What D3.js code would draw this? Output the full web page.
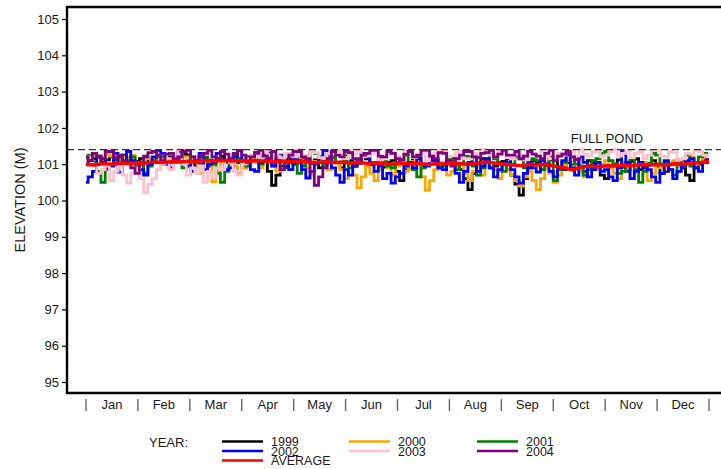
<!DOCTYPE html>
<html>
<head>
<meta charset="utf-8">
<script src="https://cdn.jsdelivr.net/npm/d3@7/dist/d3.min.js"></script>
<style>
  html, body { margin: 0; padding: 0; background: #fff; }
  svg { display: block; font-family: "Liberation Sans", Arial, Helvetica, sans-serif; }
</style>
</head>
<body>
<svg id="chart" width="721" height="469"></svg>
<script>
// ---------- data ----------
const months = ["Jan","Feb","Mar","Apr","May","Jun","Jul","Aug","Sep","Oct","Nov","Dec"];
const yTicks = [95, 96, 97, 98, 99, 100, 101, 102, 103, 104, 105];
const fullPond = 101.4;
const yearStepDays = 2.5;   // yearly series: one value every 2.5 days
const avgStepDays = 5;      // average: one value every 5 days

const y1999 = [
  101.10, 100.98, 101.15, 101.22, 101.05, 101.12, 101.20, 101.00, 101.10, 101.25,
  101.18, 101.05, 101.08, 101.15, 101.22, 101.02, 101.12, 101.20, 101.05, 101.15,
  101.20, 101.08, 101.15, 101.28, 101.25, 101.02, 101.10, 101.20, 101.18, 100.95,
  101.08, 101.15, 101.22, 101.05, 101.12, 101.25, 101.05, 100.90, 101.20, 101.10,
  101.32, 101.15, 101.10, 100.80, 100.42, 100.70, 100.95, 101.12, 101.15, 101.00,
  101.05, 101.18, 101.20, 101.02, 101.12, 100.90, 100.98, 101.15, 101.18, 101.05,
  100.90, 101.12, 101.10, 100.95, 101.02, 101.20, 101.15, 100.98, 101.05, 101.15,
  100.92, 101.05, 101.10, 100.80, 100.55, 100.85, 101.05, 101.18, 101.15, 100.95,
  100.98, 101.10, 101.12, 100.90, 101.02, 101.15, 101.18, 100.95, 100.85, 100.60,
  100.30, 100.75, 101.00, 101.15, 101.12, 100.90, 100.95, 101.05, 101.08, 100.85,
  100.70, 100.45, 100.15, 100.60, 100.90, 101.10, 101.05, 100.85, 100.95, 101.12,
  101.10, 100.90, 100.85, 101.05, 101.00, 101.15, 100.92, 100.80, 101.10, 101.02,
  100.88, 100.70, 100.60, 100.95, 101.00, 101.12, 100.92, 100.80, 101.08, 101.15,
  100.85, 100.95, 101.02, 101.10, 100.95, 100.75, 100.80, 100.98, 101.05, 101.12,
  100.90, 100.70, 100.55, 100.90, 101.00, 101.10, 101.05];
const y2000 = [
  101.20, 101.10, 101.25, 101.18, 101.15, 101.28, 101.22, 101.05, 101.10, 101.20,
  101.18, 101.25, 101.05, 100.95, 101.20, 101.15, 101.12, 101.22, 101.00, 101.10,
  101.15, 101.05, 101.08, 101.20, 101.20, 101.00, 100.95, 100.75, 101.10, 101.00,
  100.52, 100.80, 101.05, 101.12, 101.15, 100.95, 100.75, 100.90, 101.10, 101.18,
  101.05, 100.90, 101.18, 101.10, 100.95, 100.80, 101.12, 101.05, 101.02, 101.15,
  101.15, 101.00, 100.90, 100.70, 101.08, 101.15, 101.00, 100.85, 101.12, 101.02,
  100.85, 100.60, 101.00, 100.70, 100.35, 100.65, 100.95, 100.75, 100.55, 100.85,
  101.05, 100.90, 100.70, 100.95, 101.00, 100.80, 100.90, 101.08, 101.05, 100.65,
  100.28, 100.55, 100.85, 101.05, 101.00, 100.70, 100.80, 100.95, 101.02, 100.75,
  100.55, 100.80, 100.95, 100.70, 101.05, 100.90, 100.85, 100.60, 101.00, 100.85,
  100.70, 100.55, 100.40, 100.65, 100.80, 100.55, 100.30, 100.60, 100.90, 100.75,
  100.50, 100.70, 100.95, 101.10, 101.05, 100.90, 100.80, 100.65, 101.00, 100.85,
  100.88, 101.00, 101.10, 100.90, 100.75, 100.60, 101.05, 100.95, 100.60, 100.80,
  100.95, 101.05, 100.55, 100.75, 101.00, 100.90, 100.85, 101.00, 101.10, 100.95,
  100.95, 101.10, 101.20, 101.00, 101.05, 101.18, 101.15];
const y2001 = [
  101.15, 101.25, 101.05, 100.80, 100.50, 100.85, 101.00, 101.12, 101.20, 101.05,
  101.10, 101.20, 100.95, 101.05, 100.75, 100.95, 101.10, 101.25, 101.20, 101.00,
  101.05, 101.18, 101.15, 100.90, 100.95, 101.20, 101.10, 101.00, 101.20, 101.12,
  101.00, 100.75, 100.50, 100.80, 101.05, 101.20, 101.15, 101.00, 100.95, 101.10,
  101.10, 101.00, 101.25, 101.15, 101.00, 101.20, 101.15, 100.90, 101.05, 101.20,
  100.75, 100.95, 101.10, 101.35, 101.30, 101.10, 101.00, 101.22, 101.20, 101.05,
  101.05, 101.25, 100.90, 101.05, 101.15, 101.30, 101.25, 101.05, 101.00, 101.20,
  101.10, 100.95, 100.90, 101.05, 101.15, 101.25, 101.05, 100.85, 100.65, 100.90,
  101.00, 101.20, 101.15, 100.90, 100.95, 101.15, 101.10, 100.85, 101.00, 101.22,
  101.20, 100.95, 100.70, 100.90, 101.05, 101.25, 101.15, 101.00, 100.80, 101.05,
  101.00, 101.20, 101.15, 100.90, 100.95, 101.15, 101.10, 100.85, 101.00, 101.20,
  100.55, 100.85, 101.05, 101.30, 101.20, 101.00, 100.95, 100.70, 100.85, 101.10,
  101.15, 101.30, 101.35, 101.10, 101.00, 100.75, 100.80, 101.05, 101.15, 100.85,
  100.50, 100.80, 101.00, 101.30, 101.25, 101.00, 101.05, 100.85, 100.70, 101.00,
  101.10, 101.25, 100.95, 101.05, 101.20, 101.30, 101.10];
const y2002 = [
  100.50, 100.65, 100.80, 101.20, 101.15, 100.90, 100.95, 101.30, 100.78, 101.05,
  101.35, 101.10, 101.05, 100.85, 100.70, 101.00, 101.20, 101.38, 101.30, 101.00,
  100.90, 101.15, 101.35, 101.05, 100.95, 100.80, 101.10, 101.30, 100.85, 101.00,
  101.05, 101.30, 101.15, 100.85, 100.90, 101.20, 101.38, 101.10, 101.05, 100.85,
  100.80, 101.05, 101.15, 101.35, 100.95, 101.10, 101.25, 100.95, 100.85, 101.15,
  101.10, 100.85, 100.62, 100.80, 101.00, 101.20, 101.38, 101.15, 100.90, 100.70,
  100.50, 100.85, 100.70, 100.95, 101.05, 101.30, 101.25, 101.00, 100.80, 100.95,
  100.60, 100.75, 100.48, 100.65, 100.75, 100.95, 101.05, 100.90, 101.20, 101.00,
  100.95, 101.15, 101.10, 100.90, 100.85, 101.05, 101.00, 100.75, 100.50, 100.80,
  101.05, 101.20, 100.80, 100.95, 101.15, 100.90, 100.65, 100.85, 101.00, 101.15,
  100.85, 100.65, 100.48, 100.75, 101.05, 100.90, 100.78, 101.10, 101.00, 100.80,
  100.65, 100.90, 101.10, 101.25, 100.90, 100.70, 101.20, 101.05, 100.65, 100.85,
  101.05, 100.80, 100.85, 100.65, 100.55, 100.90, 101.38, 101.05, 100.60, 100.80,
  101.05, 100.90, 100.85, 100.65, 100.50, 100.75, 101.10, 100.85, 100.60, 100.80,
  100.95, 101.10, 101.15, 100.90, 100.80, 101.05, 101.15];
const y2003 = [
  101.10, 101.20, 101.00, 100.75, 100.85, 100.95, 100.55, 100.80, 100.95, 100.70,
  100.48, 100.75, 100.90, 100.60, 100.22, 100.45, 100.60, 100.85, 101.00, 101.15,
  100.85, 101.20, 101.40, 101.00, 100.70, 100.90, 100.75, 100.95, 100.50, 100.80,
  100.62, 100.90, 100.85, 101.10, 101.05, 100.80, 100.70, 101.00, 101.15, 101.25,
  101.30, 101.15, 101.20, 101.38, 101.35, 101.22, 101.15, 101.30, 101.30, 101.20,
  101.40, 101.25, 101.20, 101.35, 101.32, 101.18, 101.15, 101.30, 101.30, 101.38,
  101.25, 101.15, 101.38, 101.28, 101.40, 101.20, 101.22, 101.35, 101.30, 101.12,
  101.15, 101.30, 101.32, 101.22, 101.20, 101.38, 101.35, 101.18, 101.25, 101.30,
  101.10, 101.25, 101.30, 101.38, 101.38, 101.20, 101.22, 101.32, 101.35, 101.15,
  101.15, 101.30, 101.28, 101.40, 101.38, 101.25, 101.20, 101.35, 101.30, 101.18,
  101.15, 101.32, 101.25, 101.12, 101.35, 101.28, 101.20, 101.38, 101.30, 101.15,
  101.15, 101.30, 101.25, 101.38, 101.35, 101.20, 101.40, 101.28, 101.22, 101.35,
  101.38, 101.20, 101.25, 101.35, 101.40, 101.22, 101.30, 101.38, 101.18, 101.30,
  101.35, 101.15, 101.25, 101.38, 101.38, 101.22, 101.20, 101.35, 101.32, 101.12,
  101.15, 101.30, 101.28, 101.38, 101.35, 101.25, 101.20];
const y2004 = [
  101.20, 101.10, 101.30, 101.22, 101.15, 101.35, 101.35, 101.18, 101.25, 101.10,
  101.05, 100.90, 100.75, 101.00, 101.20, 101.32, 101.35, 101.25, 101.10, 101.28,
  101.30, 101.15, 101.20, 101.35, 101.38, 101.20, 101.05, 101.22, 101.30, 101.38,
  101.20, 101.10, 101.35, 101.28, 101.15, 101.30, 101.38, 101.25, 101.05, 101.20,
  101.30, 101.38, 101.22, 101.15, 101.35, 101.10, 100.85, 101.05, 101.25, 101.35,
  101.35, 101.20, 101.15, 100.80, 100.42, 100.65, 100.90, 101.15, 101.35, 101.25,
  101.20, 101.35, 101.32, 101.15, 101.10, 101.25, 101.30, 101.38, 101.38, 101.22,
  101.20, 101.35, 101.30, 101.15, 101.12, 101.28, 101.35, 101.20, 101.25, 101.38,
  101.38, 101.22, 101.15, 101.32, 101.30, 101.10, 100.95, 101.15, 101.25, 101.35,
  101.35, 101.20, 101.18, 101.30, 101.32, 101.38, 101.20, 101.28, 101.38, 101.25,
  101.25, 101.35, 101.15, 101.22, 101.35, 101.28, 101.22, 101.15, 101.30, 101.38,
  101.10, 101.22, 101.28, 101.35, 101.20, 101.12, 101.15];
const yAverage = [
  101.00, 100.98, 101.02, 101.00, 101.03, 101.01, 101.04, 101.03, 101.06, 101.05,
  101.07, 101.06, 101.09, 101.08, 101.10, 101.09, 101.11, 101.09, 101.10, 101.08,
  101.10, 101.08, 101.06, 101.09, 101.07, 101.09, 101.06, 101.04, 101.07, 101.05,
  101.06, 101.03, 101.05, 101.02, 101.04, 101.01, 101.00, 101.03, 101.01, 101.02,
  100.99, 101.01, 101.00, 101.03, 101.01, 101.00, 101.04, 101.06, 101.03, 101.00,
  100.98, 100.96, 101.00, 100.98, 101.00, 100.94, 100.90, 100.84, 100.92, 100.95,
  100.93, 100.96, 100.95, 100.98, 100.96, 100.99, 100.97, 101.00, 100.98, 101.01,
  101.00, 101.03, 101.05, 101.08];

const seriesNames = ["1999", "2000", "2001", "2002", "2003", "2004", "AVERAGE"];
const seriesValues = [y1999, y2000, y2001, y2002, y2003, y2004, yAverage];
const seriesSteps = [yearStepDays, yearStepDays, yearStepDays, yearStepDays, yearStepDays, yearStepDays, avgStepDays];
const seriesColors = ["#000000", "#FFA500", "#008000", "#0000FF", "#FFC0CB", "#800080", "#FF0000"];

// ---------- layout ----------
const svg = d3.select("#chart");
const frame = { left: 67, top: 7, right: 723, bottom: 393 };
const x = d3.scaleLinear().domain([0, 365]).range([86, 709]);
const y = d3.scaleLinear().domain([95, 105]).range([382, 19]);
const mx = d3.scaleBand().domain(months).range([86, 709]);
const textColor = "#1a1a1a";

svg.append("clipPath").attr("id", "clip").append("rect")
  .attr("x", frame.left).attr("y", frame.top)
  .attr("width", frame.right - frame.left).attr("height", frame.bottom - frame.top);

const gLines = svg.append("g").attr("clip-path", "url(#clip)");
seriesValues.forEach((vals, k) => {
  const step = seriesSteps[k];
  const line = d3.line()
    .x((d, i) => x(i * step))
    .y(d => y(d))
    .curve(k === 6 ? d3.curveLinear : d3.curveStep);
  gLines.append("path")
    .datum(vals)
    .attr("fill", "none")
    .attr("stroke", seriesColors[k])
    .attr("stroke-width", k === 6 ? 3.5 : 2.8)
    .attr("stroke-linejoin", "miter")
    .attr("d", line);
});

// full pond line
svg.append("line")
  .attr("x1", frame.left).attr("x2", frame.right)
  .attr("y1", y(fullPond)).attr("y2", y(fullPond))
  .attr("stroke", "#333").attr("stroke-width", 1.2)
  .attr("stroke-dasharray", "7,4");
svg.append("text")
  .attr("x", 607).attr("y", y(fullPond) - 7)
  .attr("text-anchor", "middle")
  .attr("font-size", 13).attr("fill", textColor)
  .text("FULL POND");

// frame
svg.append("path")
  .attr("d", `M${frame.right},${frame.top}H${frame.left}V${frame.bottom}H${frame.right}`)
  .attr("fill", "none").attr("stroke", "#000").attr("stroke-width", 2.4);

// y axis
const yAxis = d3.axisLeft(y).tickValues(yTicks).tickSize(4).tickPadding(3).tickFormat(d3.format("d"));
const gy = svg.append("g").attr("transform", `translate(${frame.left - 1},0)`).call(yAxis);
gy.select(".domain").remove();
gy.selectAll(".tick line").attr("stroke", "#000").attr("stroke-width", 1.2);
gy.selectAll(".tick text").attr("font-size", 13).attr("fill", textColor)
  .attr("font-family", "'Liberation Sans', Arial, sans-serif");

svg.append("text")
  .attr("transform", `translate(25,200) rotate(-90)`)
  .attr("text-anchor", "middle")
  .attr("font-size", 14.5).attr("fill", textColor)
  .text("ELEVATION (M)");

// x axis: month labels with "|" separators
const gx = svg.append("g");
gx.selectAll("text.month").data(months).join("text")
  .attr("class", "month")
  .attr("x", d => mx(d) + mx.bandwidth() / 2)
  .attr("y", 409)
  .attr("text-anchor", "middle")
  .attr("font-size", 13).attr("fill", textColor)
  .text(d => d);
const seps = months.map(m => mx(m)).concat([mx.range()[1]]);
gx.selectAll("line.sep").data(seps).join("line")
  .attr("class", "sep")
  .attr("x1", d => d).attr("x2", d => d)
  .attr("y1", 399).attr("y2", 411)
  .attr("stroke", "#666").attr("stroke-width", 1.4);

// legend
const legend = svg.append("g");
legend.append("text").attr("x", 149).attr("y", 447)
  .attr("font-size", 13).attr("fill", textColor).text("YEAR:");
const legCols = [222, 349, 477];
const legRows = [441.5, 451, 460.5];
seriesNames.forEach((name, k) => {
  const col = k === 6 ? 0 : k % 3;
  const row = k === 6 ? 2 : Math.floor(k / 3);
  const lx = legCols[col], ly = legRows[row];
  legend.append("line")
    .attr("x1", lx).attr("x2", lx + 41)
    .attr("y1", ly).attr("y2", ly)
    .attr("stroke", seriesColors[k]).attr("stroke-width", 2.6);
  legend.append("text")
    .attr("x", lx + 49).attr("y", ly + 4.5)
    .attr("font-size", 12.5).attr("fill", textColor)
    .text(name);
});
</script>
</body>
</html>
